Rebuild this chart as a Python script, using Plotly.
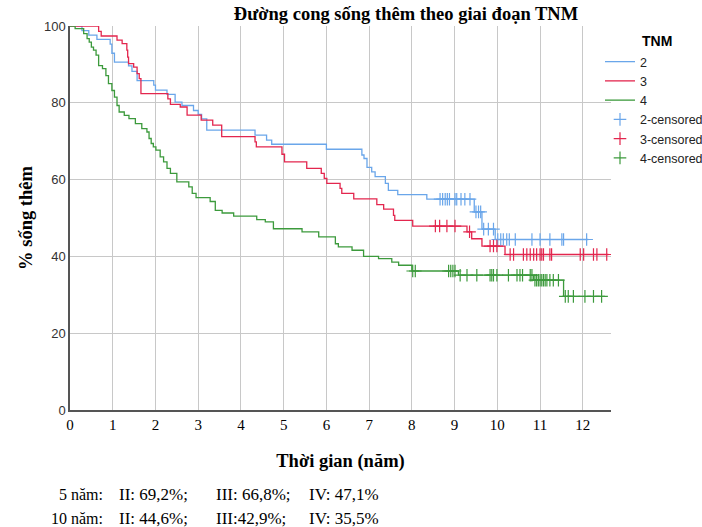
import plotly.graph_objects as go

# ---------------- data ----------------
# Stage II (TNM 2)
t2 = [0, 0.28, 0.44, 0.63, 0.94, 0.98, 1.04, 1.37, 1.45, 1.57, 1.96, 2.0, 2.27, 2.46, 2.62, 2.89, 3.0, 3.08, 3.2,
      4.33, 4.6, 4.72, 6.0, 6.83, 6.88, 6.95, 7.06, 7.14, 7.38, 7.45, 7.67, 8.35, 9.46, 9.64, 9.95]
s2 = [100, 98.8, 97.6, 96.5, 95.3, 92.9, 90.6, 89.6, 88.2, 85.8, 84.6, 83.3, 82.2, 80.2, 79.3, 78.0, 77.0, 75.8, 72.9,
      71.6, 70.3, 69.2, 67.9, 66.4, 65.5, 63.2, 62.0, 60.8, 59.0, 57.2, 56.1, 54.9, 51.6, 47.1, 44.4]
end2 = 12.13
c2 = [8.66, 8.72, 8.78, 8.83, 8.88, 9.01, 9.05, 9.15, 9.24, 9.36, 9.50, 9.56, 9.61, 9.68, 9.79, 9.91,
      10.01, 10.08, 10.14, 10.22, 10.28, 10.42, 10.81, 11.0, 11.23, 11.51, 11.55, 12.09]

# Stage III (TNM 3)
t3 = [0, 0.67, 0.73, 1.1, 1.22, 1.33, 1.35, 1.37, 1.49, 1.57, 1.62, 1.66, 2.29, 2.35, 2.58, 2.74, 3.07, 3.34, 3.55,
      4.33, 4.36, 4.96, 5.02, 5.54, 5.88, 5.95, 6.01, 6.32, 6.36, 6.64, 7.18, 7.34, 7.57, 7.6, 8.02, 9.29, 9.4, 9.64, 10.18]
s3 = [100, 98.6, 97.4, 96.3, 95.4, 93.7, 91.9, 90.2, 89.3, 87.6, 86.3, 82.4, 81.0, 79.6, 78.9, 76.8, 75.5, 74.2, 71.2,
      69.8, 68.5, 66.6, 64.6, 62.9, 61.6, 60.3, 59.0, 57.7, 56.4, 55.0, 53.5, 52.3, 50.7, 49.4, 47.9, 46.4, 44.6, 42.7, 40.5]
end3 = 12.6
c3 = [8.55, 8.65, 8.82, 9.01, 9.35, 9.83, 9.91, 9.99, 10.3, 10.38, 10.61, 10.69, 10.77, 10.85, 10.92, 11.0,
      11.04, 11.08, 11.23, 11.27, 11.94, 12.02, 12.25, 12.33, 12.56]

# Stage IV (TNM 4)
t4 = [0, 0.12, 0.32, 0.4, 0.45, 0.5, 0.55, 0.61, 0.67, 0.76, 0.84, 0.9, 0.98, 1.04, 1.1, 1.15, 1.27, 1.38, 1.53,
      1.68, 1.8, 1.85, 1.9, 1.95, 2.01, 2.11, 2.19, 2.27, 2.35, 2.5, 2.78, 2.86, 2.95, 3.28, 3.4, 3.56, 3.83,
      4.37, 4.57, 4.76, 5.43, 5.82, 6.21, 6.28, 6.6, 6.87, 7.22, 7.53, 7.69, 8.0, 9.09, 10.85, 11.55]
s4 = [100, 99.3, 98.0, 96.7, 95.8, 94.5, 93.7, 92.4, 89.7, 88.9, 87.1, 85.0, 83.2, 81.5, 79.3, 77.6, 76.7, 75.9, 74.6,
      73.3, 72.4, 70.7, 69.4, 68.5, 67.7, 65.9, 64.6, 62.9, 61.6, 59.4, 58.1, 56.4, 55.3, 54.3, 52.0, 51.3, 50.5,
      49.6, 49.0, 47.2, 46.4, 45.1, 43.3, 42.5, 41.6, 40.0, 39.4, 38.5, 37.7, 36.2, 35.1, 33.8, 29.6]
end4 = 12.52
c4 = [8.02, 8.08, 8.86, 8.91, 8.96, 9.01, 9.13, 9.29, 9.52, 9.83, 9.87, 9.91, 9.99, 10.26, 10.46, 10.53, 10.59,
      10.77, 10.81, 10.88, 10.92, 10.96, 11.0, 11.04, 11.08, 11.12, 11.16, 11.23, 11.31, 11.43,
      11.59, 11.66, 11.78, 12.05, 12.25, 12.44]

groups = ["2", "3", "4"]
x_ticks = list(range(0, 13))
y_ticks = [0, 20, 40, 60, 80, 100]

summary_labels = ["5 năm:", "10 năm:"]
summary_II = ["II: 69,2%;", "II: 44,6%;"]
summary_III = ["III: 66,8%;", "III:42,9%;"]
summary_IV = ["IV: 47,1%", "IV: 35,5%"]

# ---------------- styling ----------------
colors = {"2": "#6AA6EA", "3": "#E3264E", "4": "#3C9A3C"}
SERIF = "Liberation Serif, Times New Roman, serif"
SANS = "Liberation Sans, Arial, sans-serif"


def step_value(ts, ss, t):
    v = ss[0]
    for ti, si in zip(ts, ss):
        if ti <= t:
            v = si
    return v


fig = go.Figure()
series = {"2": (t2, s2, end2, c2), "3": (t3, s3, end3, c3), "4": (t4, s4, end4, c4)}

for g in groups:
    ts, ss, end, cs = series[g]
    fig.add_trace(go.Scatter(
        x=list(ts) + [end], y=list(ss) + [ss[-1]],
        mode="lines", line=dict(color=colors[g], width=1.3, shape="hv"),
        name=g, hoverinfo="skip"))

for g in groups:
    ts, ss, end, cs = series[g]
    fig.add_trace(go.Scatter(
        x=cs, y=[step_value(ts, ss, c) for c in cs],
        mode="markers",
        marker=dict(symbol="cross-thin", size=9, color=colors[g],
                    line=dict(color=colors[g], width=1.2)),
        name=g + "-censored", hoverinfo="skip"))

# plot area in pixels
L, T, W, H = 70, 26, 541, 384
FW, FH = 702, 527


def px(xp):
    return (xp - L) / W


def py(yp):
    return (T + H - yp) / H


ann = []
ann.append(dict(text="<b>TNM</b>", x=px(657), y=py(41), xref="paper", yref="paper",
                showarrow=False, font=dict(family=SANS, size=14, color="#000"),
                xanchor="center", yanchor="middle"))
rows_y = [494, 518]
for i in range(2):
    ann.append(dict(text=summary_labels[i], x=px(105), y=py(rows_y[i]), xref="paper", yref="paper",
                    showarrow=False, xanchor="right", yanchor="middle",
                    font=dict(family=SERIF, size=16, color="#000")))
    for xx, txt in [(117, summary_II[i]), (214, summary_III[i]), (307, summary_IV[i])]:
        ann.append(dict(text=txt, x=px(xx), y=py(rows_y[i]), xref="paper", yref="paper",
                        showarrow=False, xanchor="left", yanchor="middle",
                        font=dict(family=SERIF, size=17, color="#000")))

fig.update_layout(
    width=FW, height=FH,
    margin=dict(l=L, r=FW - L - W, t=T, b=FH - T - H, autoexpand=False),
    paper_bgcolor="white", plot_bgcolor="white",
    title=dict(text="<b>Đường cong sống thêm theo giai đoạn TNM</b>",
               x=px(406), xref="paper", xanchor="center", y=1 - 14 / FH, yanchor="middle",
               font=dict(family=SERIF, size=18.5, color="#000")),
    showlegend=True,
    legend=dict(xref="container", yref="container", x=600 / FW, y=1 - 47 / FH,
                xanchor="left", yanchor="top",
                font=dict(family=SANS, size=12.5, color="#222"),
                bgcolor="rgba(0,0,0,0)", tracegroupgap=0, itemwidth=30),
    annotations=ann,
)
fig.update_xaxes(range=[0, 12.66], tickvals=x_ticks, ticktext=[str(v) for v in x_ticks],
                 showgrid=True, gridcolor="#C8C8C8", gridwidth=1,
                 showline=True, linecolor="#555", linewidth=1.5, ticks="", zeroline=False,
                 tickfont=dict(family=SERIF, size=15, color="#000"),
                 title=dict(text="<b>Thời gian (năm)</b>", font=dict(family=SERIF, size=18.5, color="#000"),
                            standoff=22))
fig.update_yaxes(range=[0, 100], tickvals=y_ticks, ticktext=[str(v) for v in y_ticks],
                 showgrid=True, gridcolor="#C8C8C8", gridwidth=1,
                 showline=True, linecolor="#555", linewidth=1.5, ticks="", zeroline=False,
                 tickfont=dict(family=SANS, size=13, color="#333"),
                 title=dict(text="<b>% sống thêm</b>", font=dict(family=SERIF, size=18.5, color="#000"),
                            standoff=6))

fig.write_html("out.html", config={"displayModeBar": False},
               post_script="document.body.style.margin='0px';")
